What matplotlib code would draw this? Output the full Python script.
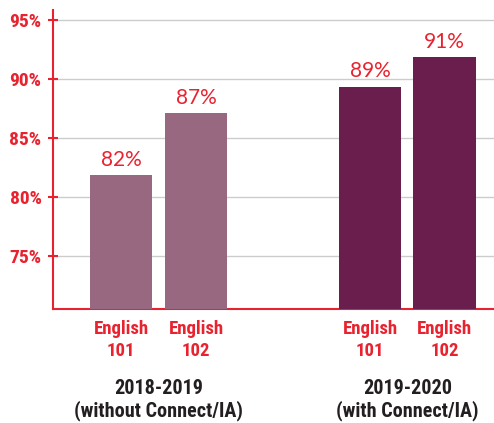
import matplotlib
matplotlib.use('Agg')
import matplotlib.pyplot as plt
import matplotlib.transforms as mtransforms

# Daten
courses = ['English\n101', 'English\n102', 'English\n101', 'English\n102']
values = [81.9, 87.1, 89.35, 91.85]
value_labels = ['82%', '87%', '89%', '91%']
positions = [0, 1, 3.32, 4.31]
groups = ['2018-2019\n(without Connect/IA)', '2019-2020\n(with Connect/IA)']
group_centers = [0.5, 3.815]
y_ticks = [75, 80, 85, 90, 95]

RED = '#e8232f'
bar_colors = ['#976880', '#976880', '#6a1e4e', '#6a1e4e']
narrow = ['Roboto Condensed', 'DejaVu Sans']

fig = plt.figure(figsize=(4.94, 4.23), dpi=100)
ax = fig.add_axes([0.1073, 0.2695, 0.8927, 0.7069])

ax.bar(positions, [v - 70 for v in values], bottom=70, width=0.827,
       color=bar_colors, zorder=3)

for x, v, lab in zip(positions, values, value_labels):
    ax.text(x, v + 0.45, lab, ha='center', va='bottom', color=RED,
            fontsize=15, family=['Lato', 'DejaVu Sans'], zorder=4)

ax.set_ylim(70.55, 95.85)
ax.set_xlim(-0.907, 4.97)
ax.set_yticks(y_ticks)
ax.set_yticklabels([f'{t}%' for t in y_ticks], color=RED, fontsize=14,
                   fontweight='bold', family=narrow)
ax.tick_params(axis='y', direction='inout', length=6.5, width=1.5,
               color=RED, pad=5)
ax.yaxis.grid(True, color='#cccccc', linewidth=1, zorder=0)

ax.set_xticks(positions)
ax.set_xticklabels(courses, color=RED, fontsize=13.5, fontweight='bold',
                   family=narrow, linespacing=1.3)
ax.tick_params(axis='x', length=0, pad=8)

for side in ['top', 'right']:
    ax.spines[side].set_visible(False)
for side in ['left', 'bottom']:
    ax.spines[side].set_color(RED)
    ax.spines[side].set_linewidth(1.5)

trans = mtransforms.blended_transform_factory(ax.transData, ax.transAxes)
for xc, g in zip(group_centers, groups):
    ax.text(xc, -0.235, g, transform=trans, ha='center', va='top',
            color='#231f20', fontsize=14.5, fontweight='bold', family=narrow,
            linespacing=1.15)

fig.savefig('out.png', dpi=100)
